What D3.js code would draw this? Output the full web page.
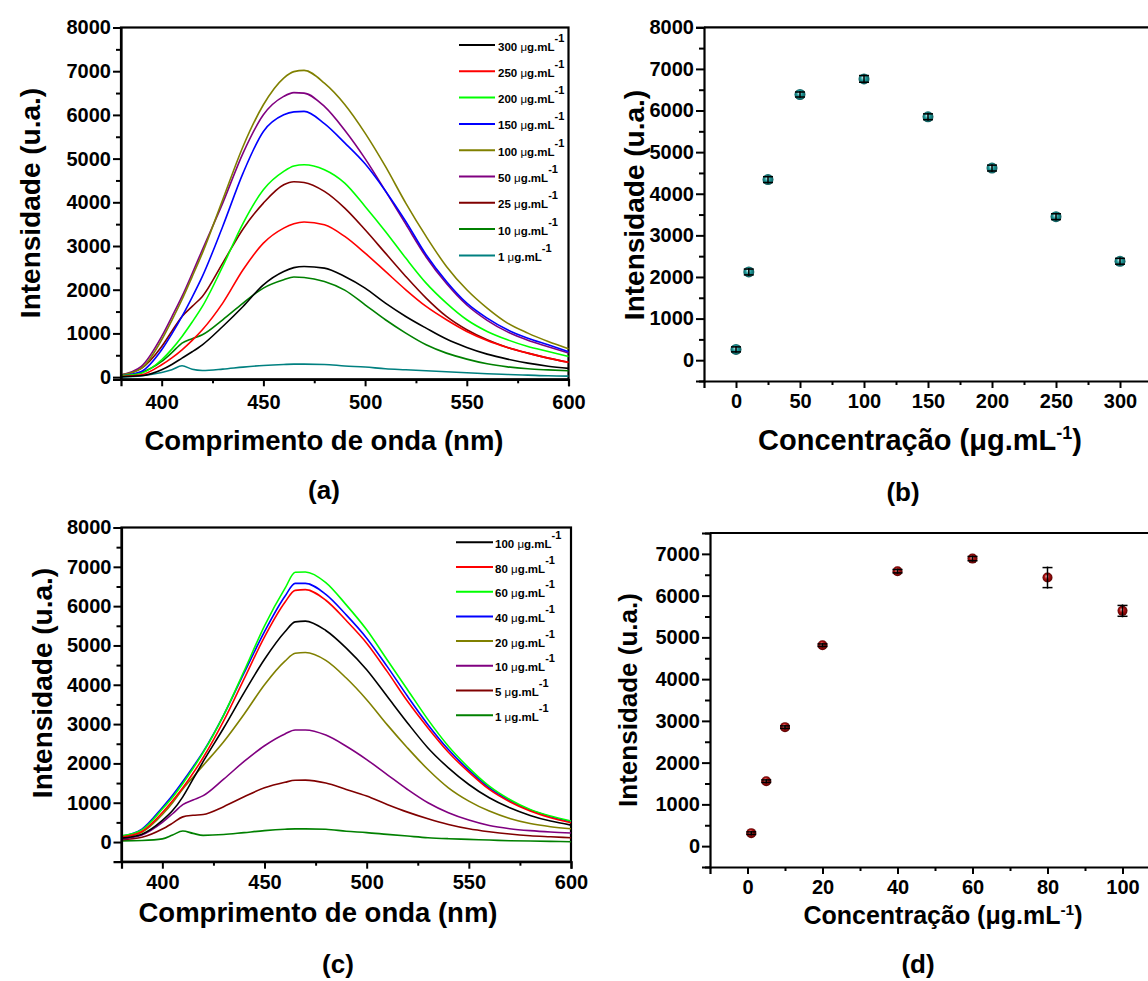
<!DOCTYPE html>
<html><head><meta charset="utf-8">
<script src="https://cdn.jsdelivr.net/npm/d3@7"></script>
<style>
body{margin:0;background:#fff}
text{font-family:'Liberation Sans',Arial,sans-serif;font-weight:bold;fill:#000}
</style>
</head><body>
<svg id="chart" width="1148" height="981"></svg>
<script>
// ---------------- DATA ----------------
const wavelengths = [380,390,400,405,410,415,420,430,440,450,460,465,470,480,490,500,510,520,530,540,550,560,570,580,590,600];

// Panel (a) spectra
const concA = ["300","250","200","150","100","50","25","10","1"];
const a300 = [10,30,168,290,435,580,740,1159,1617,2113,2418,2505,2532,2494,2304,2037,1693,1388,1121,870,679,526,412,320,250,200];
const a250 = [15,53,282,440,625,840,1083,1693,2456,3066,3410,3510,3550,3486,3219,2837,2418,1998,1617,1312,1045,839,679,549,435,340];
const a200 = [30,90,397,640,930,1260,1617,2532,3520,4287,4706,4830,4859,4745,4439,3905,3333,2723,2151,1693,1312,1045,854,702,587,470];
const a150 = [30,130,625,990,1388,1830,2304,3448,4668,5622,6003,6070,6080,5800,5360,4880,4260,3562,2800,2189,1693,1350,1083,892,740,580];
const a100 = [50,200,855,1300,1776,2300,2838,4058,5278,6232,6842,6990,7018,6728,6240,5584,4821,3982,3219,2532,1998,1579,1236,1007,816,650];
const a50  = [50,244,930,1380,1846,2370,2914,3982,5126,6003,6423,6510,6499,6194,5650,5000,4260,3500,2750,2140,1650,1300,1035,845,695,550];
const a25  = [50,200,700,1050,1388,1620,1846,2609,3390,3982,4401,4470,4455,4249,3867,3371,2837,2304,1808,1388,1083,854,679,549,435,340];
const a10  = [30,107,358,560,778,880,969,1312,1693,2037,2227,2290,2281,2189,1990,1655,1312,1007,740,549,412,305,235,190,165,145];
const a1   = [0,30,107,170,260,180,153,183,229,267,290,297,297,290,255,230,191,168,145,122,99,76,61,46,30,23];
const specA = [a300,a250,a200,a150,a100,a50,a25,a10,a1];

// Panel (c) spectra
const concC = ["100","80","60","40","20","10","5","1"];
const c100 = [100,200,550,800,1150,1600,2050,2900,3800,4650,5350,5600,5620,5380,4932,4382,3706,3029,2394,1887,1464,1125,871,677,533,431];
const c80  = [130,270,750,1050,1380,1750,2150,3080,4150,5220,6100,6400,6420,6150,5634,5059,4340,3579,2902,2284,1777,1337,1024,787,618,491];
const c60  = [160,310,840,1140,1490,1870,2280,3230,4350,5500,6450,6860,6870,6600,6032,5398,4636,3875,3113,2437,1887,1421,1083,829,660,533];
const c40  = [150,330,880,1190,1540,1910,2300,3230,4300,5350,6250,6580,6580,6300,5778,5186,4467,3706,2986,2352,1827,1379,1058,812,643,516];
const c20  = [120,250,700,1000,1350,1650,1950,2550,3250,4000,4600,4800,4820,4620,4171,3621,2986,2394,1844,1379,1041,787,600,470,390,340];
const c10  = [80,180,500,720,950,1070,1180,1600,2050,2450,2750,2850,2850,2720,2437,2098,1717,1337,998,745,558,420,340,290,255,230];
const c5   = [60,120,330,480,640,680,700,900,1150,1380,1520,1570,1574,1500,1337,1168,956,761,592,448,338,262,203,161,135,110];
const c1   = [30,40,80,180,280,220,170,190,240,290,325,335,335,325,275,240,195,152,110,85,68,51,34,25,17,8];
const specC = [c100,c80,c60,c40,c20,c10,c5,c1];

// Panel (b) points
const concB = [0,10,25,50,100,150,200,250,300];
const intB  = [260,2120,4340,6385,6760,5850,4617,3449,2377];
const errB  = [60,70,70,60,80,70,70,70,70];

// Panel (d) points
const concD = [1,5,10,20,40,60,80,100];
const intD  = [311,1556,2850,4813,6585,6887,6432,5635];
const errD  = [30,30,30,30,40,50,240,130];

// Tick labels
const yTicks8000 = [0,1000,2000,3000,4000,5000,6000,7000,8000];
const yTicks7000 = [0,1000,2000,3000,4000,5000,6000,7000];
const xTicksSpec = [400,450,500,550,600];
const xTicksB = [0,50,100,150,200,250,300];
const xTicksD = [0,20,40,60,80,100];

// ---------------- STYLES ----------------
const colorsA = ["#000000","#ff0000","#00ff00","#0000ff","#808000","#800080","#800000","#008000","#008080"];
const colorsC = ["#000000","#ff0000","#00ff00","#0000ff","#808000","#800080","#800000","#008000"];

const svg = d3.select("#chart");
const defs = svg.append("defs");
function sphereGrad(id, light, mid, dark){
  const g = defs.append("radialGradient").attr("id",id).attr("cx","50%").attr("cy","50%").attr("r","55%").attr("fx","40%").attr("fy","35%");
  g.append("stop").attr("offset","0%").attr("stop-color",light);
  g.append("stop").attr("offset","45%").attr("stop-color",mid);
  g.append("stop").attr("offset","100%").attr("stop-color",dark);
}
sphereGrad("tealBall","#d8f4f4","#1e9a9a","#0b4f50");
sphereGrad("redBall","#f2c4c4","#b01010","#4a0000");

function minorTicks(major){
  const out=[];
  for(let i=0;i<major.length-1;i++) out.push((major[i]+major[i+1])/2);
  return out;
}

function drawAxes(g, x, y, xt, xMinor, yt, yMinor, xPad){
  g.append("g").attr("transform",`translate(0,${y.range()[0]})`)
    .call(d3.axisBottom(x).tickValues(xt).tickSize(7).tickPadding(xPad).tickFormat(d3.format("d")));
  const xm = g.append("g").attr("transform",`translate(0,${y.range()[0]})`)
    .call(d3.axisBottom(x).tickValues(xMinor).tickSize(4).tickFormat(""));
  xm.select(".domain").remove();
  g.append("g").attr("transform",`translate(${x.range()[0]},0)`)
    .call(d3.axisLeft(y).tickValues(yt).tickSize(8).tickPadding(2).tickFormat(d3.format("d")));
  const ym = g.append("g").attr("transform",`translate(${x.range()[0]},0)`)
    .call(d3.axisLeft(y).tickValues(yMinor).tickSize(5).tickFormat(""));
  ym.select(".domain").remove();
  g.selectAll(".domain").attr("stroke","#000").attr("stroke-width",2.2);
  g.selectAll(".tick line").attr("stroke","#000").attr("stroke-width",2);
  g.selectAll(".tick text").style("font-size","20px").style("font-family","'Liberation Sans',Arial,sans-serif").style("font-weight","bold");
}

function yTitle(cx, cy, size){
  svg.append("text").attr("transform",`translate(${cx},${cy}) rotate(-90)`)
    .attr("text-anchor","middle").attr("dominant-baseline","central")
    .style("font-size",size+"px").text("Intensidade (u.a.)");
}
function concTitle(cx, by, size){
  const t = svg.append("text").attr("x",cx).attr("y",by).attr("text-anchor","middle").style("font-size",size+"px");
  t.append("tspan").text("Concentração (μg.mL");
  t.append("tspan").attr("dy",-size*0.38).style("font-size",(size*0.62)+"px").text("-1");
  t.append("tspan").attr("dy",size*0.38).text(")");
}
function panelLabel(cx, by, s){
  svg.append("text").attr("x",cx).attr("y",by).attr("text-anchor","middle").style("font-size","26px").text(s);
}

// -------- Spectrum panels --------
function spectrumPanel(xr, yr, ydom, specs, colors, concs, leg, xPad){
  const g = svg.append("g");
  const x = d3.scaleLinear().domain([380,600]).range(xr);
  const y = d3.scaleLinear().domain(ydom).range(yr);
  g.append("rect").attr("x",xr[0]).attr("y",yr[1]).attr("width",xr[1]-xr[0]).attr("height",yr[0]-yr[1])
    .attr("fill","none").attr("stroke","#000").attr("stroke-width",2.2);
  const line = d3.line().x((d,i)=>x(wavelengths[i])).y(d=>y(d)).curve(d3.curveMonotoneX);
  for(let k=specs.length-1;k>=0;k--){
    g.append("path").attr("d",line(specs[k])).attr("fill","none").attr("stroke",colors[k]).attr("stroke-width",1.6);
  }
  drawAxes(g, x, y, xTicksSpec, minorTicks(xTicksSpec), yTicks8000, minorTicks(yTicks8000), xPad);
  concs.forEach((c,i)=>{
    const ly = leg.y0 + i*leg.dy;
    g.append("line").attr("x1",leg.x0).attr("x2",leg.x1).attr("y1",ly).attr("y2",ly).attr("stroke",colors[i]).attr("stroke-width",2);
    const t = g.append("text").attr("x",leg.tx).attr("y",ly+5.5).style("font-size","11.5px");
    t.append("tspan").text(c+" ");
    t.append("tspan").style("font-weight","normal").text("μ");
    t.append("tspan").text("g.mL");
    t.append("tspan").attr("dy",-9).style("font-size","11px").text("-1");
  });
  return {x,y};
}

spectrumPanel([121,568.5],[379.3,27.5],[-50,8000],specA,colorsA,concA,{x0:459,x1:495,tx:498,y0:45,dy:26.3},9);
spectrumPanel([121.5,571],[861.7,527.5],[-500,8000],specC,colorsC,concC,{x0:456,x1:493,tx:495,y0:542.3,dy:24.7},6);

// -------- Scatter panels --------
function scatterPanel(xdom, xr, ydom, yr, xt, xminor, yt, yminor, xs, ys, es, grad, r){
  const g = svg.append("g");
  const x = d3.scaleLinear().domain(xdom).range(xr);
  const y = d3.scaleLinear().domain(ydom).range(yr);
  g.append("line").attr("x1",xr[0]).attr("x2",1148).attr("y1",yr[1]).attr("y2",yr[1]).attr("stroke","#000").attr("stroke-width",2.2);
  drawAxes(g, x, y, xt, xminor, yt, yminor, 6);
  g.selectAll("circle.pt").data(xs).enter().append("circle")
    .attr("cx",(d)=>x(d)).attr("cy",(d,i)=>y(ys[i])).attr("r",r).attr("fill",`url(#${grad})`);
  xs.forEach((d,i)=>{
    const cx=x(d), y1=y(ys[i]+es[i]), y2=y(ys[i]-es[i]);
    g.append("line").attr("x1",cx).attr("x2",cx).attr("y1",y1-1).attr("y2",y2+1).attr("stroke","#000").attr("stroke-width",1.5);
    [y1,y2].forEach(yy=>g.append("line").attr("x1",cx-5).attr("x2",cx+5).attr("y1",yy).attr("y2",yy).attr("stroke","#000").attr("stroke-width",1.5));
  });
}
scatterPanel([-25,325],[704,1152],[-500,8000],[381,27.3],xTicksB,minorTicks(xTicksB).concat([325]),yTicks8000,minorTicks(yTicks8000).concat([-500]),concB,intB,errB,"tealBall",5.5);
scatterPanel([-10,110],[710,1160],[-500,7500],[867,533],xTicksD,minorTicks(xTicksD),yTicks7000,minorTicks(yTicks7000).concat([-500,7500]),concD,intD,errD,"redBall",5);

// -------- Titles --------
yTitle(30,203,28);
yTitle(42,683,28);
yTitle(634,205,28);
yTitle(628,700,26);

function specTitle(cx, by, size){
  svg.append("text").attr("x",cx).attr("y",by).attr("text-anchor","middle").style("font-size",size+"px").text("Comprimento de onda (nm)");
}
specTitle(324,450,27.5);
specTitle(318,922,27.5);
concTitle(920,450,29);
concTitle(943,924,25);

panelLabel(324,499,"(a)");
panelLabel(903,501,"(b)");
panelLabel(338,973,"(c)");
panelLabel(918,973,"(d)");
</script>
</body></html>
